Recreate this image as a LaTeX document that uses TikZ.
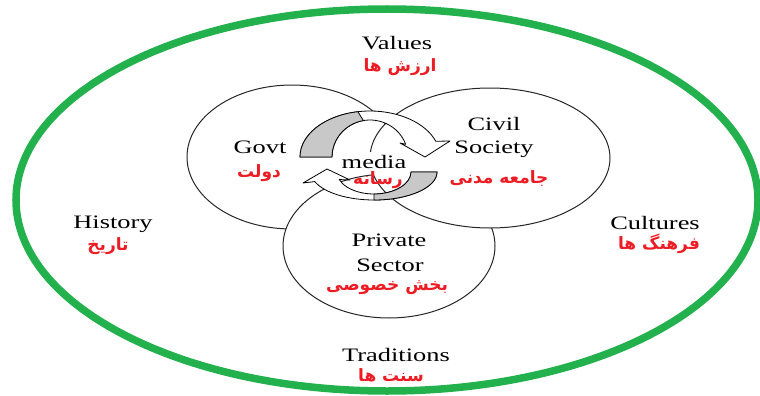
\documentclass[tikz,border=0pt]{standalone}
\usepackage{fontspec}
\setmainfont{Liberation Serif}
\newfontfamily\fafont[Script=Arabic]{DejaVu Sans}
\TeXXeTstate=1
\definecolor{ringgreen}{RGB}{34,177,76}
\definecolor{farsired}{RGB}{237,28,36}
\definecolor{arrowgray}{RGB}{200,200,200}
\newcommand{\fa}[1]{{\fafont\bfseries\beginR #1\endR}}
\usetikzlibrary{calc}

\begin{document}
\begin{tikzpicture}[x=1pt, y=1pt,
  sector/.style={draw=black!85, line width=1pt, fill=white},
  entext/.style={font=\fontsize{19}{21}\selectfont, xscale=1.39,
                 inner sep=0pt, anchor=base},
  fatext/.style={font=\fontsize{17}{19}\selectfont, text=farsired,
                 inner sep=0pt},
  ringarrow/.style={draw=black, line width=0.8pt, line join=round}
]
\useasboundingbox (0,0) rectangle (760,-396);
\draw[ringgreen, line width=7.5pt] (387,-200) ellipse [x radius=371, y radius=191];

% sectors: private over govt, civil society over both
\draw[sector] (292,-157) ellipse [x radius=105, y radius=72];
\draw[sector] (389,-246) ellipse [x radius=106, y radius=72];
\draw[sector] (490,-158) ellipse [x radius=120, y radius=70];

\node[entext, fill=white, inner sep=3pt] (media) at (374,-168) {media};

% upper ring arrow
\filldraw[ringarrow, fill=white] (300,-157)
  arc[start angle=180, end angle=20, x radius=70, y radius=46]
  -- (450,-141) -- (425,-157) -- (400,-143)
  -- ([shift={(370,-157)}]20:38 and 37)
  arc[start angle=20, end angle=180, x radius=38, y radius=37] -- cycle;
\filldraw[ringarrow, fill=arrowgray] (300,-157)
  arc[start angle=180, end angle=100, x radius=70, y radius=46]
  -- ([shift={(370,-157)}]100:38 and 37)
  arc[start angle=100, end angle=180, x radius=38, y radius=37] -- cycle;

% lower ring arrow
\filldraw[ringarrow, fill=white] (437,-172)
  arc[start angle=0, end angle=-160, x radius=63, y radius=28]
  -- (303,-183) -- (327,-169) -- (350,-180)
  -- ([shift={(374,-172)}]-160:37 and 22)
  arc[start angle=-160, end angle=0, x radius=37, y radius=22] -- cycle;
\filldraw[ringarrow, fill=arrowgray] (437,-172)
  arc[start angle=0, end angle=-90, x radius=63, y radius=28]
  -- ([shift={(374,-172)}]-90:37 and 22)
  arc[start angle=-90, end angle=0, x radius=37, y radius=22] -- cycle;

% labels
\node[entext] (values) at (397,-50) {Values};
\node[fatext] (valuesfa) at (400,-67) {\fa{ارزش ها}};
\node[entext] (govt) at (260,-153) {Govt};
\node[fatext] (govtfa) at (259,-173) {\fa{دولت}};
\node[entext] (civil) at (494,-130) {Civil};
\node[entext] (society) at (494,-153) {Society};
\node[fatext] (civilfa) at (499,-179) {\fa{جامعه مدنی}};
\node[fatext] (mediafa) at (378,-180) {\fa{رسانه}};
\node[entext] (history) at (113,-228) {History};
\node[fatext] (historyfa) at (108,-246) {\fa{تاریخ}};
\node[entext] (private) at (389,-246) {Private};
\node[entext] (sector) at (390,-271) {Sector};
\node[fatext] (privatefa) at (387,-288) {\fa{بخش خصوصی}};
\node[entext] (cultures) at (655,-229) {Cultures};
\node[fatext] (culturesfa) at (659,-244) {\fa{فرهنگ ها}};
\node[entext] (traditions) at (396,-361) {Traditions};
\node[fatext] (traditionsfa) at (391,-375) {\fa{سنت ها}};
\end{tikzpicture}
\end{document}
